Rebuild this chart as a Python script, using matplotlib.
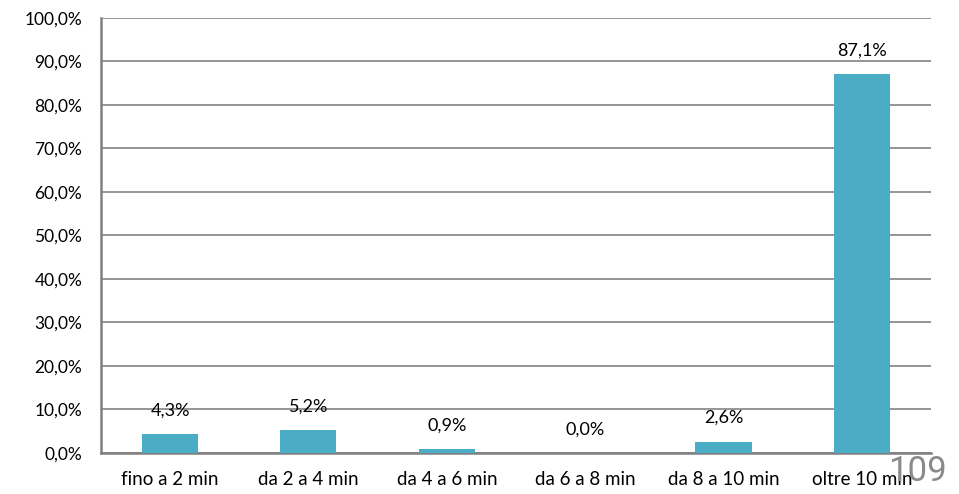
import matplotlib
matplotlib.use('Agg')
import matplotlib.pyplot as plt
from matplotlib.ticker import FuncFormatter

matplotlib.rcParams['font.family'] = ['Lato', 'DejaVu Sans']

categories = ['fino a 2 min', 'da 2 a 4 min', 'da 4 a 6 min', 'da 6 a 8 min',
              'da 8 a 10 min', 'oltre 10 min']
values = [4.3, 5.2, 0.9, 0.0, 2.6, 87.1]
y_ticks = [0, 10, 20, 30, 40, 50, 60, 70, 80, 90, 100]

def pct(v, _=None):
    return ('%.1f%%' % v).replace('.', ',')

fig = plt.figure(figsize=(9.59, 4.94), dpi=100)
ax = fig.add_axes([0.1053, 0.083, 0.8655, 0.8806])

x = range(len(categories))
bars = ax.bar(x, values, width=0.405, color='#4BACC6', zorder=3)

for b, v in zip(bars, values):
    ax.annotate(pct(v), (b.get_x() + b.get_width() / 2, v),
                xytext=(0, 17), textcoords='offset points',
                ha='center', va='center', fontsize=13, color='black', zorder=4)

ax.set_xlim(-0.5, len(categories) - 0.5)
ax.set_ylim(0, 100)
ax.set_yticks(y_ticks)
ax.yaxis.set_major_formatter(FuncFormatter(pct))
ax.set_xticks(list(x))
ax.set_xticklabels(categories)
ax.tick_params(axis='both', length=0, colors='black')
ax.tick_params(axis='x', pad=13, labelsize=13.5)
ax.tick_params(axis='y', pad=13.5, labelsize=12.5)

ax.grid(axis='y', color='#8c8c8c', linewidth=1.3, zorder=1)
for s in ['top', 'right']:
    ax.spines[s].set_visible(False)
for s in ['left', 'bottom']:
    ax.spines[s].set_color('#808080')
    ax.spines[s].set_linewidth(1.8)

fig.text(0.987, 0.012, '109', ha='right', va='bottom', fontsize=25,
         color='#8a8a8a', family=['Roboto', 'DejaVu Sans'])

fig.savefig('out.png', dpi=100)
